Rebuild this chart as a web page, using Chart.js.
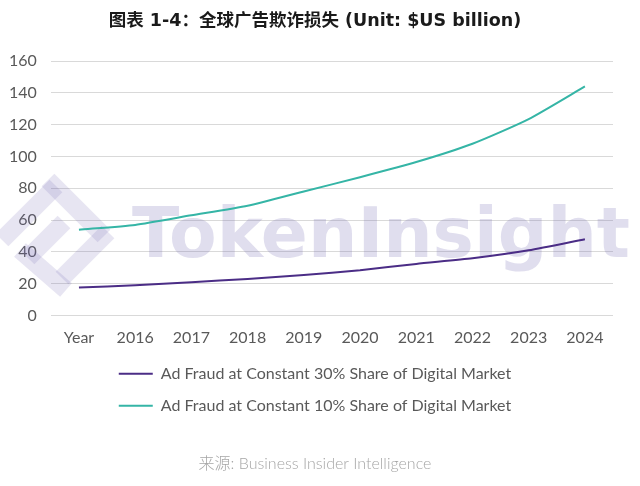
<!DOCTYPE html>
<html><head><meta charset="utf-8">
<script src="https://cdn.jsdelivr.net/npm/chart.js@4.4.0/dist/chart.umd.min.js"></script>
<style>html,body{margin:0;padding:0;background:#fff;}#wrap{width:640px;height:486px;}</style>
</head><body><div id="wrap"><canvas id="c" width="640" height="486"></canvas></div>
<script>
const categories = ['Year','2016','2017','2018','2019','2020','2021','2022','2023','2024'];
const share30 = [17.6, 19, 21, 23, 25.5, 28.5, 32.5, 36, 41, 48];
const share10 = [54, 57, 63, 69, 78, 87, 96.5, 108, 123.5, 144];
const yTicks = [0, 20, 40, 60, 80, 100, 120, 140, 160];
const seriesNames = ['Ad Fraud at Constant 30% Share of Digital Market', 'Ad Fraud at Constant 10% Share of Digital Market'];
const titleText = '图表 1-4：全球广告欺诈损失 (Unit: $US billion)';
const sourceText = '来源: Business Insider Intelligence';
const watermarkText = 'TokenInsight';

const PURPLE = '#4b2d86';
const TEAL = '#35b5a6';
const GRAY = '#595959';
const FONT = "Lato, 'Noto Sans CJK SC', sans-serif";

const watermark = {
  id: 'watermark',
  beforeDatasetsDraw(chart) {
    const ctx = chart.ctx;
    ctx.save();
    ctx.fillStyle = 'rgba(110,100,175,0.21)';
    ctx.font = "bold 69px 'DejaVu Sans Condensed', 'DejaVu Sans', sans-serif";
    ctx.textBaseline = 'alphabetic';
    const w = ctx.measureText(watermarkText).width;
    const x0 = 132, x1 = 630;
    ctx.translate(x0, 257);
    ctx.scale((x1 - x0) / w, 1);
    ctx.fillText(watermarkText, 0, 0);
    ctx.restore();
    // logo bars
    ctx.save();
    ctx.strokeStyle = 'rgba(110,100,175,0.17)';
    ctx.lineWidth = 18;
    ctx.lineCap = 'butt';
    const bars = [[48,180,104,236],[56,186,2,240],[108,232,62,278],[64,222,28,258],[20,250,66,290]];
    bars.forEach(b => { ctx.beginPath(); ctx.moveTo(b[0], b[1]); ctx.lineTo(b[2], b[3]); ctx.stroke(); });
    ctx.restore();
  }
};

const shiftBoxes = {
  id: 'shiftBoxes',
  afterLayout(chart) {
    chart.boxes.forEach(b => {
      if (b.axis === undefined && (b.position === 'top' || b.position === 'bottom')) {
        b.left += 11; b.right += 11;
      }
    });
  }
};

new Chart(document.getElementById('c'), {
  type: 'line',
  data: {
    labels: categories,
    datasets: [
      { label: seriesNames[0], data: share30, borderColor: PURPLE, backgroundColor: PURPLE, borderWidth: 2, pointRadius: 0, tension: 0.2 },
      { label: seriesNames[1], data: share10, borderColor: TEAL, backgroundColor: TEAL, borderWidth: 2, pointRadius: 0, tension: 0.2 }
    ]
  },
  options: {
    responsive: false,
    animation: false,
    layout: { padding: { left: -5, right: 27, top: 0, bottom: 0 } },
    scales: {
      x: {
        offset: true,
        grid: { display: false, drawTicks: false },
        border: { display: false },
        ticks: { color: GRAY, font: { family: FONT, size: 16 }, padding: 13, maxRotation: 0, autoSkip: false },
        afterFit(s) { s.height -= 11; }
      },
      y: {
        min: 0, max: 160,
        afterBuildTicks(s) { s.ticks = yTicks.map(v => ({ value: v })); },
        grid: { color: '#d9d9d9', lineWidth: 1, drawTicks: false },
        border: { display: false },
        ticks: { color: GRAY, font: { family: FONT, size: 16 }, padding: 14 }
      }
    },
    plugins: {
      title: {
        display: true, text: titleText, color: '#1a1a1a',
        font: { family: "'DejaVu Sans', 'Noto Sans CJK SC', sans-serif", size: 17.5, weight: 'bold' },
        padding: { top: 11, bottom: 29 }
      },
      subtitle: {
        display: true, text: sourceText, position: 'bottom', color: '#a6a6a6',
        font: { family: FONT, size: 16, weight: '300' },
        padding: { top: 30, bottom: 13 }
      },
      legend: {
        position: 'bottom',
        labels: {
          color: GRAY, font: { family: FONT, size: 16 }, boxWidth: 34, boxHeight: 2, padding: 16,
          generateLabels(chart) {
            return chart.data.datasets.map((d, i) => ({ text: d.label, fillStyle: d.borderColor, strokeStyle: d.borderColor, lineWidth: 0, datasetIndex: i, hidden: false, fontColor: GRAY }));
          }
        }
      },
      tooltip: { enabled: false }
    }
  },
  plugins: [watermark, shiftBoxes]
});
</script>
</body></html>
